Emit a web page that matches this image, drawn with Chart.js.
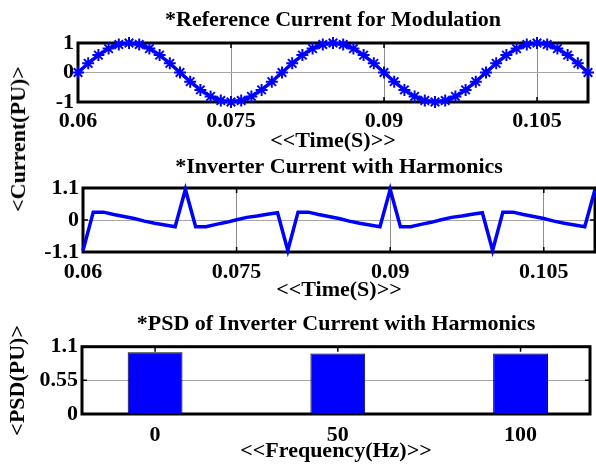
<!DOCTYPE html>
<html>
<head>
<meta charset="utf-8">
<script src="https://cdn.jsdelivr.net/npm/chart.js@4.4.1/dist/chart.umd.min.js"></script>
<style>
  body { margin: 0; background: #fff; }
  #page { position: relative; width: 596px; height: 465px; overflow: hidden; }
  canvas { position: absolute; left: 0; }
  .ylabel {
    position: absolute;
    font: bold 22px 'Liberation Serif', 'Times New Roman', serif;
    white-space: nowrap;
    transform: translate(-50%, -50%) rotate(-90deg);
  }
</style>
</head>
<body>
<div id="page">
  <canvas id="refChart" width="596" height="156" style="top:0"></canvas>
  <canvas id="invChart" width="596" height="160" style="top:145px"></canvas>
  <canvas id="psdChart" width="596" height="165" style="top:300px"></canvas>
  <div class="ylabel" style="left:18px; top:139px">&lt;Current(PU)&gt;</div>
</div>
<script>
// sample times (s), shared by both time plots
const time = [
  0.060, 0.061, 0.062, 0.063, 0.064, 0.065, 0.066, 0.067, 0.068, 0.069,
  0.070, 0.071, 0.072, 0.073, 0.074, 0.075, 0.076, 0.077, 0.078, 0.079,
  0.080, 0.081, 0.082, 0.083, 0.084, 0.085, 0.086, 0.087, 0.088, 0.089,
  0.090, 0.091, 0.092, 0.093, 0.094, 0.095, 0.096, 0.097, 0.098, 0.099,
  0.100, 0.101, 0.102, 0.103, 0.104, 0.105, 0.106, 0.107, 0.108, 0.109,
  0.110
];

const refCurrent = [
  0, 0.31, 0.59, 0.81, 0.95, 1, 0.95, 0.81, 0.59, 0.31,
  0, -0.31, -0.59, -0.81, -0.95, -1, -0.95, -0.81, -0.59, -0.31,
  0, 0.31, 0.59, 0.81, 0.95, 1, 0.95, 0.81, 0.59, 0.31,
  0, -0.31, -0.59, -0.81, -0.95, -1, -0.95, -0.81, -0.59, -0.31,
  0, 0.31, 0.59, 0.81, 0.95, 1, 0.95, 0.81, 0.59, 0.31,
  0
];

const invCurrent = [
  -1.05, 0.27, 0.27, 0.19, 0.12, 0.05, -0.04, -0.11, -0.17, -0.23,
  1.05, -0.23, -0.23, -0.15, -0.08, 0.01, 0.09, 0.14, 0.2, 0.25,
  -1.05, 0.27, 0.27, 0.19, 0.12, 0.05, -0.04, -0.11, -0.17, -0.23,
  1.05, -0.23, -0.23, -0.15, -0.08, 0.01, 0.09, 0.14, 0.2, 0.25,
  -1.05, 0.27, 0.27, 0.19, 0.12, 0.05, -0.04, -0.11, -0.17, -0.23,
  1.05
];

const freqs = [0, 50, 100];
const psd = [1.01, 0.99, 0.99];

const timeTicks = [0.06, 0.075, 0.09, 0.105];
const refTicks = [-1, 0, 1];
const invTicks = [-1.1, 0, 1.1];
const freqTicks = [0, 50, 100];
const psdTicks = [0, 0.55, 1.1];

const blue = '#0000FF';
const font = { family: "'Liberation Serif', 'Times New Roman', serif", size: 22, weight: 'bold' };

const qs = (selector) => document.querySelector(selector);

Chart.defaults.color = '#000';

// matlab style box with small inward ticks
const framePlugin = {
  id: 'frame',
  beforeDatasetsDraw: (chart) => {
    const { ctx, chartArea: a, scales: { x, y } } = chart;
    const len = 5;
    ctx.save();
    ctx.strokeStyle = '#000';
    ctx.lineWidth = 1.5;
    ctx.beginPath();
    x.ticks.forEach((t) => {
      const px = x.getPixelForValue(t.value);
      ctx.moveTo(px, a.top);
      ctx.lineTo(px, a.top + len);
      ctx.moveTo(px, a.bottom);
      ctx.lineTo(px, a.bottom - len);
    });
    y.ticks.forEach((t) => {
      const py = y.getPixelForValue(t.value);
      ctx.moveTo(a.left, py);
      ctx.lineTo(a.left + len, py);
      ctx.moveTo(a.right, py);
      ctx.lineTo(a.right - len, py);
    });
    ctx.stroke();
    ctx.lineWidth = 3;
    ctx.strokeRect(a.left, a.top, a.right - a.left, a.bottom - a.top);
    ctx.restore();
  }
};

const setTicks = (values) => (scale) => {
  scale.ticks = values.map((v) => ({ value: v }));
};

const makeOptions = (o) => ({
  responsive: false,
  animation: false,
  layout: { padding: { left: 0, right: o.rightPad, top: 0, bottom: 0 } },
  plugins: {
    legend: { display: false },
    tooltip: { enabled: false },
    title: {
      display: true,
      fullSize: false,
      text: o.title,
      font,
      color: '#000',
      padding: { top: o.titleTop, bottom: o.titleBottom }
    }
  },
  scales: {
    x: {
      type: 'linear',
      min: o.xMin,
      max: o.xMax,
      offset: false,
      afterBuildTicks: setTicks(o.xTicks),
      afterFit: (s) => { s.height = o.xHeight; },
      grid: { display: o.xGrid, color: '#8c8c8c', lineWidth: 1, drawTicks: false, offset: false },
      border: { display: false },
      ticks: {
        font,
        color: '#000',
        padding: o.xTickPad,
        maxRotation: 0,
        autoSkip: false,
        callback: (v) => String(v)
      },
      title: {
        display: true,
        text: o.xTitle,
        font,
        color: '#000',
        padding: { top: 0, bottom: o.xTitleBottom }
      }
    },
    y: {
      min: o.yMin,
      max: o.yMax,
      afterBuildTicks: setTicks(o.yTicks),
      afterFit: (s) => { s.width = o.yWidth; },
      grid: { color: '#a6a6a6', lineWidth: 1, drawTicks: false },
      border: { display: false },
      ticks: {
        font,
        color: '#000',
        padding: 4,
        autoSkip: false,
        callback: (v) => String(v)
      },
      title: {
        display: !!o.yTitle,
        text: o.yTitle || '',
        font,
        color: '#000',
        padding: { top: 4.8, bottom: 0 }
      }
    }
  }
});

new Chart(qs('#refChart'), {
  type: 'line',
  data: {
    datasets: [{
      data: time.map((t, i) => ({ x: t, y: refCurrent[i] })),
      borderColor: blue,
      borderWidth: 3.5,
      pointStyle: 'star',
      pointRadius: 6,
      pointBorderWidth: 2,
      pointBorderColor: blue,
      pointBackgroundColor: blue,
      clip: false
    }]
  },
  options: makeOptions({
    title: '*Reference Current for Modulation',
    titleTop: 7.3, titleBottom: 9.3,
    rightPad: 1,
    xMin: 0.06, xMax: 0.11, xTicks: timeTicks, xGrid: true,
    xHeight: 54, xTickPad: 6.5, xTitle: '<<Time(S)>>', xTitleBottom: 1.8,
    yMin: -1, yMax: 1, yTicks: refTicks, yWidth: 78
  }),
  plugins: [framePlugin]
});

new Chart(qs('#invChart'), {
  type: 'line',
  data: {
    datasets: [{
      data: time.map((t, i) => ({ x: t, y: invCurrent[i] })),
      borderColor: blue,
      borderWidth: 3.5,
      pointRadius: 0,
      tension: 0,
      clip: false
    }]
  },
  options: makeOptions({
    title: '*Inverter Current with Harmonics',
    titleTop: 9.3, titleBottom: 7.3,
    rightPad: 1,
    xMin: 0.06, xMax: 0.11, xTicks: timeTicks, xGrid: true,
    xHeight: 53, xTickPad: 7.3, xTitle: '<<Time(S)>>', xTitleBottom: 1.8,
    yMin: -1.1, yMax: 1.1, yTicks: invTicks, yWidth: 83
  }),
  plugins: [framePlugin]
});

new Chart(qs('#psdChart'), {
  type: 'bar',
  data: {
    datasets: [{
      data: freqs.map((f, i) => ({ x: f, y: psd[i] })),
      backgroundColor: blue,
      borderColor: '#000',
      borderWidth: 1,
      barPercentage: 0.3,
      categoryPercentage: 1
    }]
  },
  options: makeOptions({
    title: '*PSD of Inverter Current with Harmonics',
    titleTop: 10.8, titleBottom: 9.5,
    rightPad: 6,
    xMin: -20, xMax: 119, xTicks: freqTicks, xGrid: false,
    xHeight: 51, xTickPad: 7.8, xTitle: '<<Frequency(Hz)>>', xTitleBottom: 0,
    yMin: 0, yMax: 1.1, yTicks: psdTicks, yWidth: 82, yTitle: '<PSD(PU)>'
  }),
  plugins: [framePlugin]
});
</script>
</body>
</html>
